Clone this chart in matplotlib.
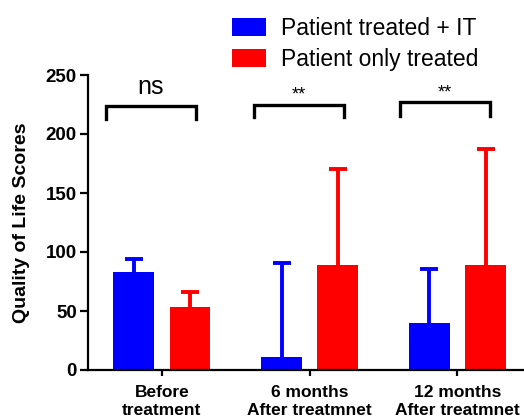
"""Quality of life scores before and after treatment, with and without IT."""

import numpy as np
import matplotlib

matplotlib.use("Agg")
import matplotlib.pyplot as plt

plt.rcParams["font.family"] = ["Liberation Sans", "DejaVu Sans"]

# --- data --------------------------------------------------------------
groups = ["Before\ntreatment", "6 months\nAfter treatmnet", "12 months\nAfter treatmnet"]
series_names = ["Patient treated + IT", "Patient only treated"]
it_mean = [83, 11, 40]
it_upper_err = [11, 80, 46]
only_mean = [53, 89, 89]
only_upper_err = [13, 81, 98]

# significance brackets: (left, right, top, leg bottom), label
sig_left = [-0.38, 0.62, 1.61]
sig_right = [0.23, 1.23, 2.22]
sig_top = [224, 225, 227]
sig_bottom = [213, 214, 215]
sig_labels = ["ns", "**", "**"]

BLUE = "#0000FF"
RED = "#FF0000"


def main() -> None:
    fig = plt.figure(figsize=(5.24, 4.17), dpi=100)
    ax = fig.add_axes([88 / 524, 1 - 370 / 417, 436 / 524, 295 / 417])

    x = np.arange(len(groups))
    width = 0.277
    off = 0.19
    err_kw = dict(elinewidth=2.8, capthick=2.8, capsize=6.5)

    zeros = [0] * len(groups)
    bars_it = ax.bar(x - off, it_mean, width, color=BLUE, label=series_names[0],
                     yerr=[zeros, it_upper_err], ecolor=BLUE, error_kw=err_kw)
    bars_only = ax.bar(x + off, only_mean, width, color=RED, label=series_names[1],
                       yerr=[zeros, only_upper_err], ecolor=RED, error_kw=err_kw)
    # upper error only: hide the cap drawn at the bar top
    for container in (bars_it, bars_only):
        caps = container.errorbar.lines[1]
        caps[0].set_visible(False)

    for left, right, top, bottom, label in zip(
        sig_left, sig_right, sig_top, sig_bottom, sig_labels
    ):
        ax.plot([left, left, right, right], [bottom, top, top, bottom],
                color="black", lw=2.4, clip_on=False, solid_joinstyle="miter")
        if label == "ns":
            ax.text((left + right) / 2, top + 6, label, ha="center",
                    va="bottom", fontsize=18)
        else:
            ax.text((left + right) / 2, top + 0.5, label, ha="center",
                    va="bottom", fontsize=13)

    ax.set_xlim(-0.5, 2.45)
    ax.set_ylim(0, 250)
    ax.set_yticks(np.arange(0, 251, 50))
    ax.set_xticks(x)
    ax.set_xticklabels(groups, fontweight="bold", fontsize=12.5)
    for lab in ax.get_yticklabels():
        lab.set_fontweight("bold")
        lab.set_fontsize(13.5)

    ax.set_ylabel("Quality of Life Scores", fontweight="bold", fontsize=14)
    ax.yaxis.set_label_coords(-0.133, 0.5)

    ax.spines["top"].set_visible(False)
    ax.spines["right"].set_visible(False)
    for side in ("left", "bottom"):
        ax.spines[side].set_linewidth(1.6)
    ax.tick_params(axis="y", length=6, width=1.6, pad=2)
    ax.tick_params(axis="x", length=4.5, width=1.6, pad=6.5)

    ax.legend(loc="upper left", bbox_to_anchor=(232 / 524, 1 - 17 / 417),
              bbox_transform=fig.transFigure, frameon=False, fontsize=16.5,
              handlelength=1.48, handleheight=0.79, handletextpad=0.65,
              labelspacing=0.35, borderpad=0, borderaxespad=0)

    fig.savefig("out.png", dpi=100)
    plt.close(fig)


if __name__ == "__main__":
    main()
